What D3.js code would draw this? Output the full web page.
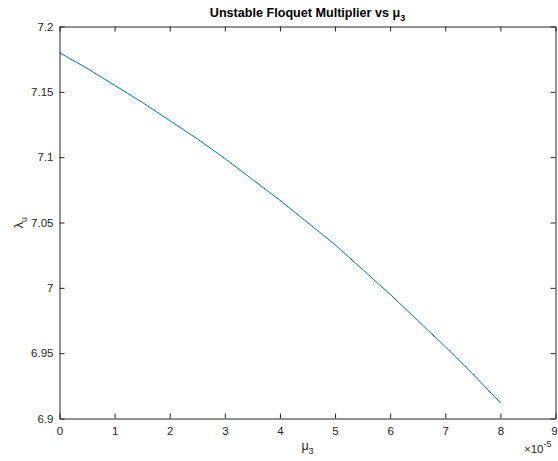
<!DOCTYPE html>
<html>
<head>
<meta charset="utf-8">
<script src="https://cdn.jsdelivr.net/npm/d3@7"></script>
<style>
  html, body { margin: 0; padding: 0; background: #fff; }
  svg { display: block; font-family: "Liberation Sans", Arial, Helvetica, sans-serif; }
</style>
</head>
<body>
<svg id="chart" width="558" height="461"></svg>
<script>
// Data (mu3 in units of 1e-5, lambda_u)
const mu3 = [0, 0.5, 1, 1.5, 2, 2.5, 3, 3.5, 4, 4.5, 5, 5.5, 6, 6.5, 7, 7.5, 8];
const lambdaU = [7.180, 7.168, 7.155, 7.142, 7.128, 7.114, 7.099, 7.083, 7.067, 7.050, 7.033, 7.014, 6.995, 6.975, 6.955, 6.934, 6.912];
const xTicks = [0, 1, 2, 3, 4, 5, 6, 7, 8, 9];
const yTicks = [6.9, 6.95, 7, 7.05, 7.1, 7.15, 7.2];
const xScaleExp = 1e-5;

(function () {
const svg = d3.select("#chart");
const W = 558, H = 461;
const pL = 59.5, pR = 555.5, pT = 26.5, pB = 418.5;
const ink = "#262626";

const x = d3.scaleLinear().domain([0, 9 * xScaleExp]).range([pL, pR]);
const y = d3.scaleLinear().domain([6.9, 7.2]).range([pB, pT]);

svg.append("rect").attr("width", W).attr("height", H).attr("fill", "#fff");

// line
const pts = mu3.map((m, i) => [m * xScaleExp, lambdaU[i]]);
svg.append("path")
  .datum(pts)
  .attr("fill", "none")
  .attr("stroke", "#0072BD")
  .attr("stroke-width", 1)
  .attr("d", d3.line().x(d => x(d[0])).y(d => y(d[1])));

const fmtY = d => String(+d.toFixed(2));
const xt = xTicks.map(t => t * xScaleExp);

function styleAxis(g) {
  g.selectAll("path.domain").attr("stroke", ink).attr("stroke-width", 1);
  g.selectAll(".tick line").attr("stroke", ink).attr("stroke-width", 1);
  g.selectAll(".tick text").attr("fill", ink).style("font-size", "11.5px")
    .style("font-family", '"Liberation Sans", Arial, Helvetica, sans-serif');
}

const gx = svg.append("g").attr("transform", `translate(0,${pB})`)
  .call(d3.axisBottom(x).tickValues(xt).tickFormat(d => Math.round(d / xScaleExp))
    .tickSizeInner(-5).tickSizeOuter(0).tickPadding(8))
  .call(styleAxis);
// keep the last label inside the picture
gx.selectAll(".tick text").filter((d, i, n) => i === n.length - 1).attr("dx", -1.5);

svg.append("g").attr("transform", `translate(0,${pT})`)
  .call(d3.axisTop(x).tickValues(xt).tickFormat("")
    .tickSizeInner(-5).tickSizeOuter(0))
  .call(styleAxis);

svg.append("g").attr("transform", `translate(${pL},0)`)
  .call(d3.axisLeft(y).tickValues(yTicks).tickFormat(fmtY)
    .tickSizeInner(-5).tickSizeOuter(0).tickPadding(6))
  .call(styleAxis);

svg.append("g").attr("transform", `translate(${pR},0)`)
  .call(d3.axisRight(y).tickValues(yTicks).tickFormat("")
    .tickSizeInner(-5).tickSizeOuter(0))
  .call(styleAxis);

// title
const title = svg.append("text")
  .attr("x", (pL + pR) / 2).attr("y", 17)
  .attr("text-anchor", "middle")
  .attr("fill", "#000")
  .style("font-size", "12.6px").style("font-weight", "bold");
title.append("tspan").text("Unstable Floquet Multiplier vs μ");
title.append("tspan").attr("dy", 4).style("font-size", "9px").text("3");

// x label
const xl = svg.append("text")
  .attr("x", (pL + pR) / 2).attr("y", 450)
  .attr("text-anchor", "middle").attr("fill", ink)
  .style("font-size", "12.5px");
xl.append("tspan").text("μ");
xl.append("tspan").attr("dy", 4).style("font-size", "9px").text("3");

// y label
const yl = svg.append("text")
  .attr("transform", `translate(23,${(pT + pB) / 2}) rotate(-90)`)
  .attr("text-anchor", "middle").attr("fill", ink)
  .style("font-size", "12.5px");
yl.append("tspan").text("λ");
yl.append("tspan").attr("dy", 4).style("font-size", "9px").text("u");

// exponent
const ex = svg.append("text")
  .attr("x", 524).attr("y", 452.5)
  .attr("fill", ink).style("font-size", "11.5px");
ex.append("tspan").text("×10");
ex.append("tspan").attr("dy", -6).style("font-size", "9px").text("-5");
})();
</script>
</body>
</html>
